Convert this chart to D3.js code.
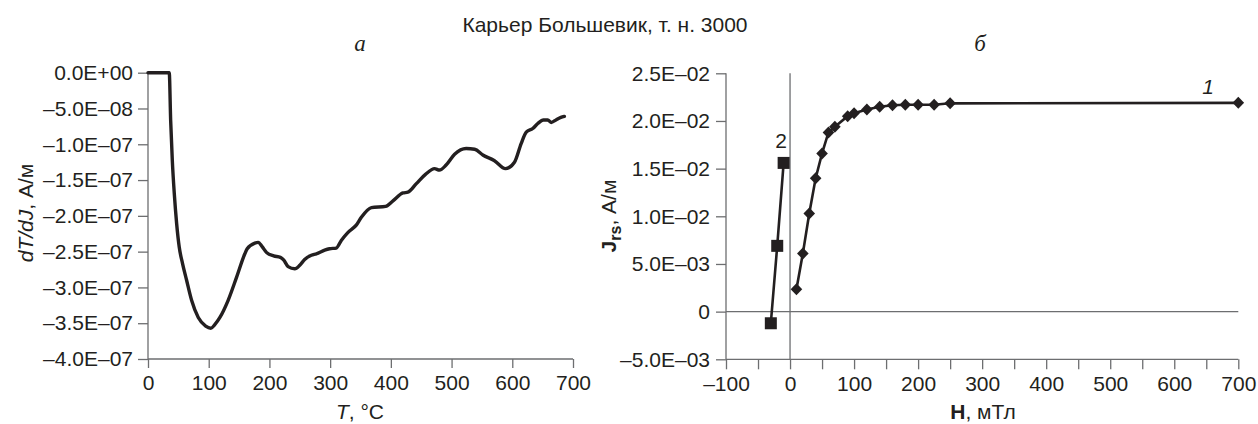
<!DOCTYPE html>
<html><head><meta charset="utf-8">
<script src="https://cdn.jsdelivr.net/npm/d3@7"></script>
<style>
body{margin:0;background:#fff;}
text{font-family:"Liberation Sans",Arial,Helvetica,sans-serif;fill:#231f20;}
</style></head>
<body><svg id="c" width="1258" height="424"></svg>
<script>
// ---- Data ----
const title = "Карьер Большевик, т. н. 3000";
// Panel a: dT/dJ vs T
const tempT = [0,35,37.3,40,43.3,47.2,51.5,57,63.6,71.8,82.8,95,103.5,110,118.4,132,145.8,159.5,163.4,176,181.4,188,195,207,218,223.7,230.8,241.8,250,258,269,277.4,291,299,310,318.6,329.5,343,351.4,368,391.4,403.5,420,428,442,457,472,480,491,505,524,538,551.5,570.7,588.8,603.6,614.6,623,633.7,642,651.3,658.4,664,672,680,685.8];
const dTdJ = [0,0,-0.662,-1.22,-1.69,-2.11,-2.44,-2.67,-2.90,-3.18,-3.42,-3.54,-3.57,-3.52,-3.42,-3.18,-2.86,-2.53,-2.46,-2.38,-2.37,-2.43,-2.51,-2.56,-2.58,-2.62,-2.71,-2.74,-2.69,-2.61,-2.55,-2.53,-2.48,-2.46,-2.45,-2.34,-2.23,-2.13,-2.02,-1.885,-1.867,-1.79,-1.68,-1.67,-1.55,-1.42,-1.34,-1.36,-1.29,-1.14,-1.06,-1.07,-1.15,-1.23,-1.34,-1.25,-0.99,-0.83,-0.78,-0.71,-0.66,-0.66,-0.695,-0.66,-0.625,-0.61].map(v=>v*1e-7);
const aYTicks = [0,-5e-8,-1e-7,-1.5e-7,-2e-7,-2.5e-7,-3e-7,-3.5e-7,-4e-7];
const aYLabels = ["0.0E+00","–5.0E–08","–1.0E–07","–1.5E–07","–2.0E–07","–2.5E–07","–3.0E–07","–3.5E–07","–4.0E–07"];
const aXTicks = [0,100,200,300,400,500,600,700];
// Panel b: Jrs vs H
const h1 = [10,20,30,40,50,60,70,90,100,120,140,160,180,200,225,250,700];
const j1 = [0.00235,0.0061,0.0103,0.0140,0.0166,0.0188,0.0194,0.0205,0.0208,0.0212,0.0215,0.02165,0.0217,0.0217,0.0217,0.02185,0.0219];
const h2 = [-30,-20,-10];
const j2 = [-0.00122,0.0069,0.0156];
const bYTicks = [0.025,0.02,0.015,0.01,0.005,0,-0.005];
const bYLabels = ["2.5E–02","2.0E–02","1.5E–02","1.0E–02","5.0E–03","0","–5.0E–03"];
const bXTicks = [-100,-50,0,50,100,150,200,250,300,350,400,450,500,550,600,650,700];
const bXLabels = [-100,0,100,200,300,400,500,600,700];

// ---- Drawing ----
const svg = d3.select("#c");
const ink = "#231f20", axisC = "#6d6e70";
const fs = 21;

svg.append("text").attr("x",605).attr("y",32).attr("text-anchor","middle")
  .style("font-size","21px").text(title);

// Panel a
const xa = d3.scaleLinear().domain([0,700]).range([148,573]);
const ya = d3.scaleLinear().domain([-4e-7,0]).range([359,72.7]);
const ga = svg.append("g");
const axA = ga.append("g").attr("transform","translate(0,359)")
  .call(d3.axisBottom(xa).tickValues(aXTicks).tickSize(9).tickPadding(7).tickFormat(d3.format("d")));
const ayA = ga.append("g").attr("transform","translate(148,0)")
  .call(d3.axisLeft(ya).tickValues(aYTicks).tickSize(10).tickPadding(5).tickFormat((d,i)=>aYLabels[i]));
[axA,ayA].forEach(g=>{
  g.select(".domain").attr("stroke",axisC).attr("stroke-width",1.3);
  g.selectAll(".tick line").attr("stroke",axisC).attr("stroke-width",1.3);
  g.selectAll(".tick text").style("font-size",fs+"px").style("font-family","Liberation Sans, Arial, sans-serif").attr("fill",ink);
});
axA.select(".domain").attr("d","M148,0H573");
ayA.select(".domain").attr("d","M0,72.7V359");
const lineA = d3.line().x((d,i)=>xa(tempT[i])).y((d,i)=>ya(dTdJ[i])).curve(d3.curveMonotoneX);
ga.append("path").datum(tempT).attr("d",lineA).attr("fill","none").attr("stroke",ink)
  .attr("stroke-width",3.4).attr("stroke-linejoin","round").attr("stroke-linecap","round");

const la = ga.append("text").attr("transform","translate(33,213) rotate(-90)").attr("text-anchor","middle")
  .style("font-size",fs+"px");
la.append("tspan").style("font-style","italic").text("dT/dJ");
la.append("tspan").text(", А/м");
const lax = ga.append("text").attr("x",360).attr("y",419).attr("text-anchor","middle").style("font-size",fs+"px");
lax.append("tspan").style("font-style","italic").text("T");
lax.append("tspan").text(", °C");
ga.append("text").attr("x",360).attr("y",51).attr("text-anchor","middle")
  .style("font-family","Liberation Serif, Times New Roman, serif").style("font-style","italic").style("font-size","23px").text("а");

// Panel b
const xb = d3.scaleLinear().domain([-100,700]).range([726,1238.3]);
const yb = d3.scaleLinear().domain([-0.005,0.025]).range([359.3,73.3]);
const gb = svg.append("g");
const axB = gb.append("g").attr("transform","translate(0,359.3)")
  .call(d3.axisBottom(xb).tickValues(bXTicks).tickSize(10).tickPadding(7)
    .tickFormat(d=>bXLabels.includes(d)?(d<0?"–"+Math.abs(d):String(d)):""));
const ayB = gb.append("g").attr("transform","translate(726,0)")
  .call(d3.axisLeft(yb).tickValues(bYTicks).tickSize(10).tickPadding(6).tickFormat((d,i)=>bYLabels[i]));
[axB,ayB].forEach(g=>{
  g.select(".domain").attr("stroke",axisC).attr("stroke-width",1.3);
  g.selectAll(".tick line").attr("stroke",axisC).attr("stroke-width",1.3);
  g.selectAll(".tick text").style("font-size",fs+"px").style("font-family","Liberation Sans, Arial, sans-serif").attr("fill",ink);
});
axB.select(".domain").attr("d","M726,0H1238.3");
ayB.select(".domain").attr("d","M0,73.3V359.3");
// zero lines
gb.append("line").attr("x1",xb(0)).attr("x2",xb(0)).attr("y1",yb(0.025)).attr("y2",yb(-0.005)).attr("stroke",axisC).attr("stroke-width",1.3);
gb.append("line").attr("x1",726).attr("x2",xb(700)).attr("y1",yb(0)).attr("y2",yb(0)).attr("stroke",axisC).attr("stroke-width",1.3);

const line1 = d3.line().x((d,i)=>xb(h1[i])).y((d,i)=>yb(j1[i]));
gb.append("path").datum(h1).attr("d",line1).attr("fill","none").attr("stroke",ink).attr("stroke-width",2.6);
gb.selectAll(".dia").data(h1).join("path").attr("class","dia")
  .attr("transform",(d,i)=>`translate(${xb(d)},${yb(j1[i])})`)
  .attr("d","M0,-6L5.8,0L0,6L-5.8,0Z").attr("fill",ink);
const line2 = d3.line().x((d,i)=>xb(h2[i])).y((d,i)=>yb(j2[i]));
gb.append("path").datum(h2).attr("d",line2).attr("fill","none").attr("stroke",ink).attr("stroke-width",2.6);
gb.selectAll(".sq").data(h2).join("rect").attr("class","sq")
  .attr("x",d=>xb(d)-6).attr("y",(d,i)=>yb(j2[i])-6).attr("width",12).attr("height",12).attr("fill",ink);

gb.append("text").attr("x",1208).attr("y",94).attr("text-anchor","middle").style("font-style","italic").style("font-size",fs+"px").text("1");
gb.append("text").attr("x",781).attr("y",148).attr("text-anchor","middle").style("font-size",fs+"px").text("2");

const lb = gb.append("text").attr("transform","translate(616,216) rotate(-90)").attr("text-anchor","middle").style("font-size",fs+"px");
lb.append("tspan").style("font-weight","bold").text("J");
lb.append("tspan").style("font-weight","bold").style("font-size","16px").attr("dy",5).text("rs");
lb.append("tspan").attr("dy",-5).text(", А/м");
const lbx = gb.append("text").attr("x",983).attr("y",419).attr("text-anchor","middle").style("font-size",fs+"px");
lbx.append("tspan").style("font-weight","bold").text("H");
lbx.append("tspan").text(", мТл");
gb.append("text").attr("x",980).attr("y",51).attr("text-anchor","middle")
  .style("font-family","Liberation Serif, Times New Roman, serif").style("font-style","italic").style("font-size","23px").text("б");
</script></body></html>
